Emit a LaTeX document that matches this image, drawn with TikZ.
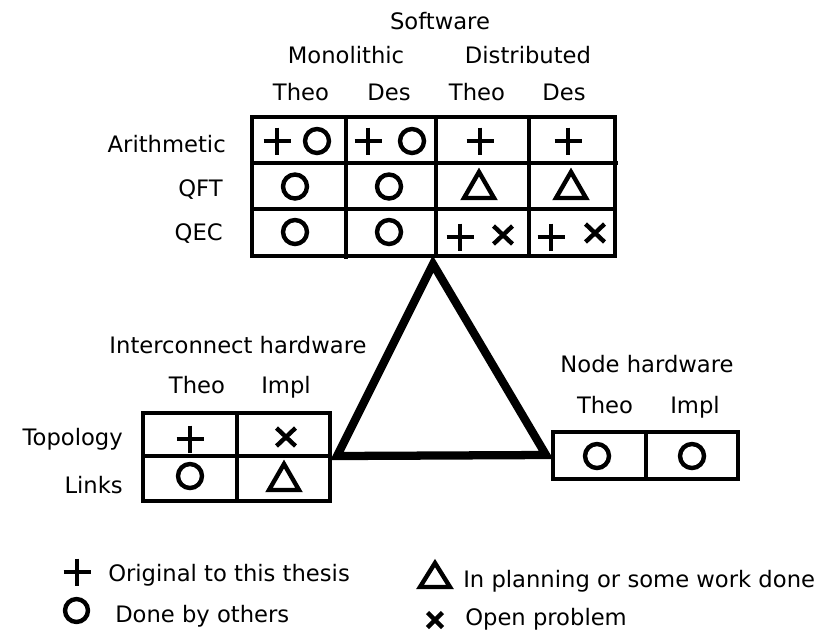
\documentclass[tikz,border=0pt]{standalone}
\usepackage{fontspec}
\setmainfont{DejaVu Sans}
\newcommand\SymPlus[2]{\draw[sym] (#1-13.5,#2) -- (#1+13.5,#2) (#1,#2-13.5) -- (#1,#2+13.5);}
\newcommand\SymCirc[2]{\draw[sym] (#1,#2) circle[radius=9pt];}
\newcommand\SymTri[2]{\draw[sym,line join=miter] (#1-15,#2+12) -- (#1+15,#2+12) -- (#1,#2-14) -- cycle;}
\newcommand\SymCross[2]{\draw[sym] (#1-9.5,#2-9) -- (#1+9.5,#2+9) (#1-9.5,#2+9) -- (#1+9.5,#2-9);}
\begin{document}
\begin{tikzpicture}[x=0.75pt,y=-0.75pt,
  lbl/.style={inner sep=0pt, font=\fontsize{17}{20}\selectfont},
  gridline/.style={line width=2.7pt},
  sym/.style={line width=3.3pt},
  triline/.style={line width=6.2pt, line join=miter}]
\useasboundingbox (0,0) rectangle (837,637);

% ---------- Software table ----------
\node[lbl, anchor=base] (sw) at (440,29) {Software};
\node[lbl, anchor=base] (mono) at (346,63) {Monolithic};
\node[lbl, anchor=base] (dist) at (528,63) {Distributed};
\node[lbl, anchor=base] (t1) at (301,100) {Theo};
\node[lbl, anchor=base] (d1) at (389,100) {Des};
\node[lbl, anchor=base] (t2) at (477,100) {Theo};
\node[lbl, anchor=base] (d2) at (564,100) {Des};
\node[lbl, anchor=base east] (arith) at (226,152) {Arithmetic};
\node[lbl, anchor=base east] (qft) at (223,196) {QFT};
\node[lbl, anchor=base east] (qec) at (223,240) {QEC};

\coordinate (swNW) at (252,117);
\coordinate (swSE) at (615,256);
\draw[gridline] (swNW) rectangle (swSE);
\draw[gridline] (252,163) -- (618,163) (252,209) -- (615,209)
  (346,117) -- (346,259) (436,117) -- (436,256) (529,117) -- (529,256);

\SymPlus{277}{141}\SymCirc{317}{141}
\SymPlus{368}{141}\SymCirc{412}{141}
\SymPlus{480}{141}
\SymPlus{568}{141}
\SymCirc{295}{186.5}\SymCirc{389}{186.5}
\SymTri{479}{186}\SymTri{571}{186}
\SymCirc{295}{232}\SymCirc{389}{232}
\SymPlus{460}{237}\SymCross{503}{235}
\SymPlus{551}{237}\SymCross{595}{233}

% ---------- Interconnect hardware table ----------
\node[lbl, anchor=base] (ih) at (238,353) {Interconnect hardware};
\node[lbl, anchor=base] (t3) at (197,393) {Theo};
\node[lbl, anchor=base] (i3) at (286,393) {Impl};
\node[lbl, anchor=base east] (topo) at (123,445) {Topology};
\node[lbl, anchor=base east] (links) at (123,493) {Links};
\draw[gridline] (143,413) rectangle (330,501);
\draw[gridline] (143,456) -- (330,456) (237,413) -- (237,501);
\SymPlus{190}{439}\SymCross{286}{437}
\SymCirc{190}{476}\SymTri{284}{478}

% ---------- Node hardware table ----------
\node[lbl, anchor=base] (nh) at (647,372) {Node hardware};
\node[lbl, anchor=base] (t4) at (605,413) {Theo};
\node[lbl, anchor=base] (i4) at (695,413) {Impl};
\draw[gridline] (553,432) rectangle (738,479);
\draw[gridline] (646,432) -- (646,479);
\SymCirc{597}{456}\SymCirc{692}{456}

% ---------- Triangle ----------
\coordinate (apex) at (433,264);
\coordinate (left) at (337,456);
\coordinate (right) at (546,455);
\draw[triline] (apex) -- (left) -- (right) -- cycle;

% ---------- Legend ----------
\SymPlus{77}{572}
\node[lbl, anchor=base west] (lg1) at (108,581) {Original to this thesis};
\draw[sym] (76.5,610.5) circle[radius=8.6pt];
\node[lbl, anchor=base west] (lg2) at (115,622) {Done by others};
\draw[sym,line join=miter] (420,587) -- (450,587) -- (435,563) -- cycle;
\node[lbl, anchor=base west] (lg3) at (463,587) {In planning or some work done};
\draw[sym] (427.5,612.5) -- (442.5,627.5) (427.5,627.5) -- (442.5,612.5);
\node[lbl, anchor=base west] (lg4) at (465,625) {Open problem};
\end{tikzpicture}
\end{document}
